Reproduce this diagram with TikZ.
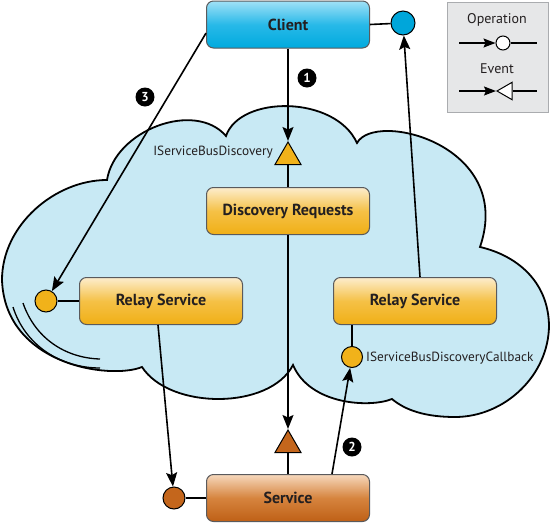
\documentclass[tikz,border=0pt]{standalone}
\usepackage{fontspec}
\setmainfont{PT Sans}
\usetikzlibrary{arrows.meta,shapes.geometric,calc}
\definecolor{cloudfill}{RGB}{200,233,244}
\definecolor{boxline}{RGB}{90,90,92}
\definecolor{textdark}{RGB}{35,31,32}
\definecolor{orTop}{RGB}{253,237,205}
\definecolor{orMid}{RGB}{245,193,70}
\definecolor{orBot}{RGB}{240,175,22}
\definecolor{cyTop}{RGB}{160,225,247}
\definecolor{cyMid}{RGB}{40,185,232}
\definecolor{cyBot}{RGB}{0,170,222}
\definecolor{brTop}{RGB}{246,216,188}
\definecolor{brMid}{RGB}{214,132,62}
\definecolor{brBot}{RGB}{190,96,22}
\definecolor{orPort}{RGB}{241,178,26}
\definecolor{brPort}{RGB}{196,102,28}
\definecolor{cyPort}{RGB}{0,166,218}
\definecolor{legfill}{RGB}{230,231,232}
\definecolor{legline}{RGB}{170,172,175}
\begin{document}
\begin{tikzpicture}[x=1pt,y=-1pt,
  box/.style={rounded corners=7pt, minimum width=163pt, minimum height=47pt,
    draw=boxline, line width=1pt, text=textdark,
    font=\bfseries\fontsize{16}{19}\selectfont},
  orangebox/.style={box, top color=orTop, bottom color=orBot, middle color=orMid},
  cyanbox/.style={box, top color=cyTop, bottom color=cyBot, middle color=cyMid},
  brownbox/.style={box, top color=brTop, bottom color=brBot, middle color=brMid},
  port/.style={circle, draw=black, line width=1pt, inner sep=0pt},
  evt/.style={regular polygon, regular polygon sides=3, draw=black, line width=1pt,
    inner sep=0pt, minimum size=30pt},
  conn/.style={line width=1.6pt},
  arr/.style={conn, -{Stealth[length=14pt,width=11pt,inset=2.5pt]}},
  legconn/.style={line width=1.3pt},
  legarr/.style={legconn, -{Stealth[length=12pt,width=9pt,inset=2pt]}},
  num/.style={circle, fill=black, text=white, inner sep=0pt, minimum size=19pt,
    font=\bfseries\fontsize{13}{13}\selectfont},
  lbl/.style={inner sep=0pt, text=textdark, font=\fontsize{13.3}{15}\selectfont},
  leglbl/.style={lbl, font=\fontsize{14}{16}\selectfont}
]
\useasboundingbox (0,0) rectangle (550,523);

% cloud
\draw[fill=cloudfill, draw=black, line width=1.8pt]
  (107,180) .. controls (115,130) and (195,100) .. (226,136)
  .. controls (240,95) and (335,95) .. (357,143)
  .. controls (375,110) and (515,145) .. (480,247)
  .. controls (515,255) and (548,280) .. (549,325)
  .. controls (549,375) and (505,417) .. (455,417)
  .. controls (425,417) and (405,410) .. (392,399)
  .. controls (370,408) and (310,405) .. (293,365)
  .. controls (270,410) and (170,410) .. (142,367)
  .. controls (110,380) and (5,365) .. (2,280)
  .. controls (2,225) and (55,180) .. cycle;
\draw[line width=1.3pt] (13,307) .. controls (25,345) and (60,368) .. (100,368);
\draw[line width=1.3pt] (23,303) .. controls (35,338) and (65,358) .. (100,359);

% legend
\node[draw=legline, fill=legfill, line width=1pt, minimum width=101pt, minimum height=110pt, inner sep=0pt] (leg) at (497.5,57) {};
\node[leglbl] (legop) at (497,20) {Operation};
\node[leglbl] (legev) at (497,69) {Event};
\coordinate (oa) at (459,43);
\coordinate (ob) at (537,43);
\node[port, fill=white, minimum size=14pt] (oc) at (503,43) {};
\draw[legarr] (oa) -- (oc);
\draw[legconn] (oc) -- (ob);
\coordinate (ea) at (459,91);
\coordinate (eb) at (537,91);
\node[evt, fill=white, minimum size=20pt, shape border rotate=90] (ec) at (507,91) {};
\draw[legarr] (ea) -- (ec.corner 1);
\draw[legconn] (ec.east) -- (eb);

% boxes
\node[cyanbox] (cl) at (288,24.5) {Client};
\node[orangebox] (dr) at (288,211) {Discovery Requests};
\node[orangebox] (rl) at (161,301) {Relay Service};
\node[orangebox] (rr) at (415,301) {Relay Service};
\node[brownbox] (svc) at (288,498) {Service};

% ports
\node[port, fill=cyPort, minimum size=24pt] (cc) at (403,23) {};
\node[port, fill=orPort, minimum size=22pt] (lc) at (46,301) {};
\node[port, fill=orPort, minimum size=21pt] (rc) at (352,357) {};
\node[port, fill=brPort, minimum size=22pt] (sc) at (174,498) {};
\node[evt, fill=orPort] (t1) at (288,157) {};
\node[evt, fill=brPort] (t2) at (288,445) {};

% labels
\node[lbl, anchor=east] (lb1) at (273,152) {IServiceBusDiscovery};
\node[lbl, anchor=west] (lb2) at (366,358) {IServiceBusDiscoveryCallback};

% connectors
\draw[conn] (cl.east) -- (cc);
\draw[arr] (cl.south) -- (t1.corner 1);
\draw[conn] (t1.south) -- (dr.north);
\draw[arr] (dr.south) -- (t2.corner 1);
\draw[conn] (t2.south) -- (svc.north);
\draw[conn] (lc) -- (rl.west);
\draw[conn] (sc) -- (svc.west);
\draw[conn] (rr.south -| rc) -- (rc);
\draw[arr] ([xshift=44pt]svc.north) -- (rc);
\draw[arr] ([xshift=5pt]rr.north) -- (cc);
\draw[arr] (cl.186) -- (lc);
\draw[arr] ([xshift=-3pt]rl.south) -- (sc);

% step numbers
\node[num] (n1) at (307,78) {1};
\node[num] (n2) at (352,447) {2};
\node[num] (n3) at (145,97) {3};
\end{tikzpicture}
\end{document}
